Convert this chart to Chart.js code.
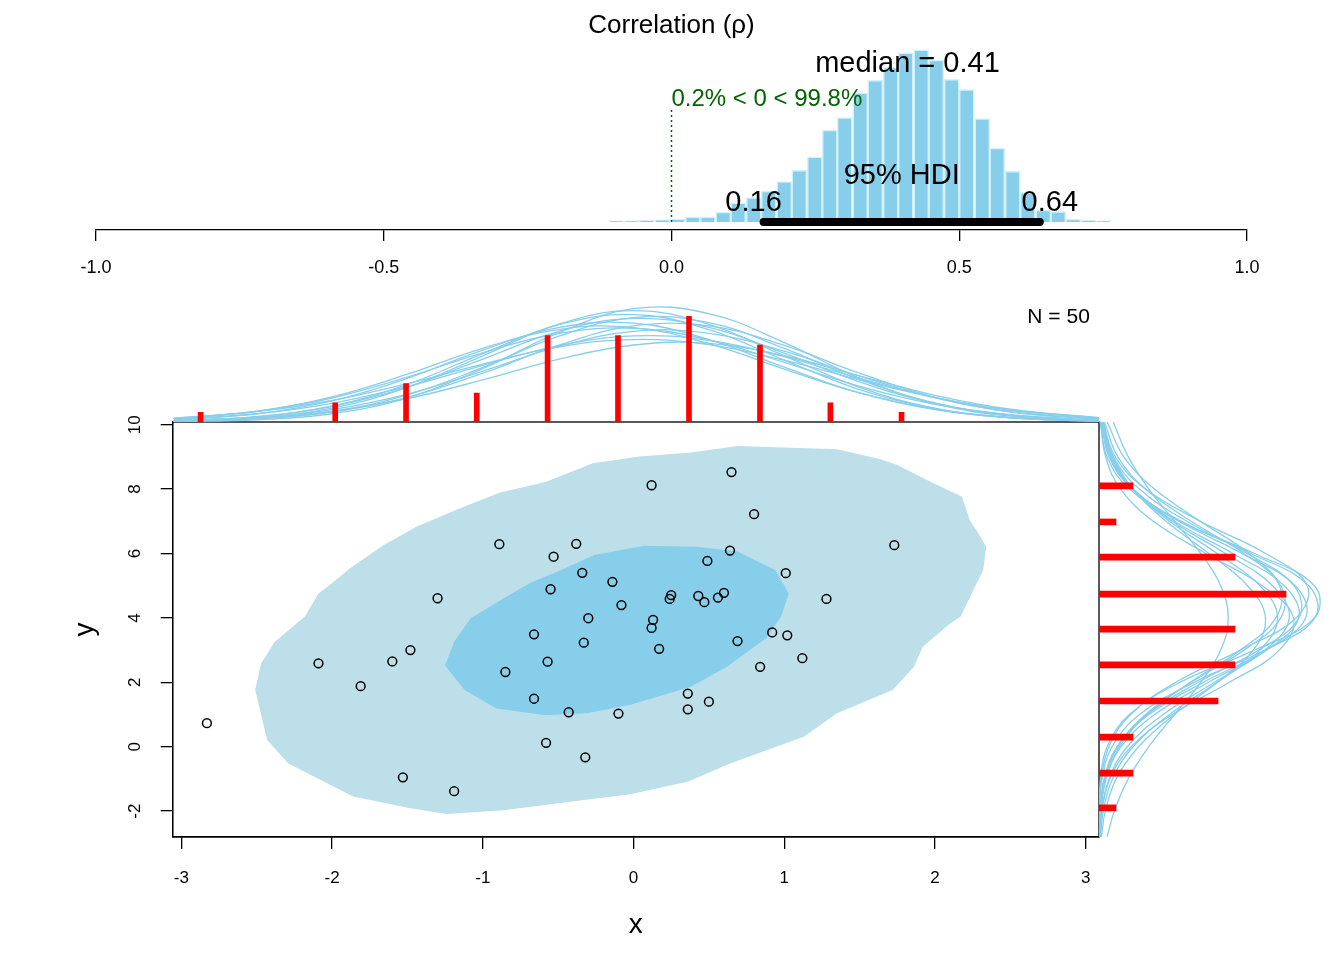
<!DOCTYPE html>
<html>
<head>
<meta charset="utf-8">
<script src="https://cdn.jsdelivr.net/npm/chart.js@4.4.1/dist/chart.umd.min.js"></script>
<style>
  html, body { margin: 0; padding: 0; background: #fff; }
  #wrap { position: relative; width: 1344px; height: 960px; }
  #wrap canvas { position: absolute; left: 0; top: 0; }
</style>
</head>
<body>
<div id="wrap">
  <canvas id="rhoChart" width="1344" height="960"></canvas>
  <canvas id="mainChart" width="1344" height="960"></canvas>
  <canvas id="topChart" width="1344" height="960"></canvas>
  <canvas id="sideChart" width="1344" height="960"></canvas>
</div>
<script>
// posterior of the correlation
const rhoBins = [-0.096, -0.069, -0.043, -0.016, 0.010, 0.037, 0.063, 0.090, 0.116, 0.143,
                 0.169, 0.196, 0.222, 0.249, 0.275, 0.301, 0.328, 0.354, 0.381, 0.407,
                 0.434, 0.460, 0.487, 0.513, 0.540, 0.566, 0.593, 0.619, 0.646, 0.672,
                 0.698, 0.725, 0.751];
const rhoDensity = [0.02, 0.02, 0.03, 0.04, 0.06, 0.10, 0.10, 0.19, 0.37, 0.47,
                    0.60, 0.78, 1.00, 1.26, 1.78, 2.02, 2.50, 2.74, 2.99, 3.27,
                    3.33, 3.13, 2.76, 2.56, 2.00, 1.43, 0.98, 0.57, 0.23, 0.20,
                    0.05, 0.03, 0.02];
const rhoHdi = [0.16, 0.64];
const rhoMedian = 0.41;
const rhoSplit = [0.2, 99.8];

// raw data
const xs = [-2.83, -2.09, -1.81, -1.60, -1.48, -1.30, -0.89, -0.53, -0.38, -0.34,
            -0.14, -0.55, -0.08, -0.30, -0.66, -0.33, -0.57, -0.85, -0.66, -0.43,
            -0.10, -0.58, -0.32, -1.53, -1.19, 0.12, 0.65, 0.80, 1.73, 0.64,
            0.49, 1.01, 0.25, 0.24, 0.43, 0.47, 0.56, 0.60, 1.28, 0.13,
            0.12, 0.69, 0.92, 1.02, 0.17, 1.12, 0.84, 0.36, 0.50, 0.36];
const ys = [0.73, 2.59, 1.88, 2.65, 3.00, 4.61, 6.29, 5.90, 6.30, 5.40,
            5.12, 4.89, 4.40, 3.99, 3.49, 3.23, 2.64, 2.32, 1.49, 1.07,
            1.03, 0.12, -0.33, -0.95, -1.38, 8.12, 8.53, 7.22, 6.26, 6.09,
            5.77, 5.39, 4.71, 4.59, 4.68, 4.49, 4.63, 4.78, 4.59, 3.94,
            3.69, 3.28, 3.55, 3.46, 3.04, 2.75, 2.48, 1.65, 1.40, 1.16];

// marginal histograms
const xHistMids = [-2.872, -1.979, -1.509, -1.040, -0.570, -0.103, 0.368, 0.839, 1.306, 1.778];
const xHistCounts = [1, 2, 4, 3, 9, 9, 11, 8, 2, 1];
const yHistMids = [8.10, 6.98, 5.89, 4.74, 3.65, 2.54, 1.42, 0.30, -0.82, -1.90];
const yHistCounts = [2, 1, 8, 11, 8, 8, 7, 2, 2, 1];

// posterior predictive curves (count scale)
const xCurveGrid = [-3.05, -2.5, -2, -1.5, -1, -0.5, 0, 0.5, 1, 1.5, 2, 2.5, 3.09];
const xCurves = [
  [0.04, 0.22, 0.86, 2.52, 5.56, 9.29, 11.80, 11.30, 8.27, 4.57, 1.91, 0.61, 0.11],
  [0.14, 0.56, 1.61, 3.63, 6.55, 9.42, 10.79, 9.85, 7.17, 4.17, 1.92, 0.71, 0.16],
  [0.36, 1.11, 2.50, 4.68, 7.21, 9.22, 9.76, 8.56, 6.20, 3.72, 1.85, 0.76, 0.21],
  [0.07, 0.33, 1.04, 2.57, 5.08, 7.98, 10.01, 10.01, 7.98, 5.08, 2.57, 1.04, 0.27],
  [0.12, 0.56, 1.67, 3.91, 7.13, 10.12, 11.19, 9.63, 6.45, 3.37, 1.37, 0.44, 0.08],
  [0.29, 0.86, 1.94, 3.70, 5.91, 7.94, 8.97, 8.51, 6.80, 4.55, 2.57, 1.22, 0.41],
  [0.35, 1.12, 2.62, 4.98, 7.68, 9.63, 9.84, 8.17, 5.51, 3.03, 1.35, 0.49, 0.11],
  [0.12, 0.43, 1.12, 2.44, 4.38, 6.52, 8.02, 8.18, 6.90, 4.81, 2.78, 1.33, 0.44],
  [0.09, 0.45, 1.45, 3.60, 6.89, 10.18, 11.60, 10.18, 6.89, 3.60, 1.45, 0.45, 0.08],
  [0.12, 0.47, 1.30, 2.91, 5.29, 7.84, 9.45, 9.24, 7.37, 4.78, 2.52, 1.08, 0.31],
  [0.23, 0.85, 2.20, 4.55, 7.49, 9.84, 10.29, 8.59, 5.71, 3.03, 1.28, 0.43, 0.09],
  [0.07, 0.33, 1.09, 2.82, 5.68, 8.91, 10.88, 10.35, 7.67, 4.42, 1.99, 0.70, 0.15],
  [0.40, 1.07, 2.24, 3.99, 6.04, 7.81, 8.59, 8.06, 6.44, 4.39, 2.55, 1.26, 0.45]
];
const yCurveGrid = [-2.8, -2, -1, 0, 1, 2, 3, 4, 5, 6, 7, 8, 9, 10.08];
const yCurves = [
  [0.01, 0.03, 0.18, 0.77, 2.39, 5.59, 9.76, 12.70, 12.34, 8.94, 4.85, 1.95, 0.59, 0.12],
  [0.02, 0.10, 0.40, 1.30, 3.28, 6.44, 9.85, 11.74, 10.89, 7.87, 4.43, 1.94, 0.66, 0.16],
  [0.03, 0.09, 0.36, 1.11, 2.74, 5.42, 8.53, 10.69, 10.69, 8.53, 5.42, 2.74, 1.11, 0.32],
  [0.09, 0.25, 0.79, 2.01, 4.15, 6.95, 9.47, 10.50, 9.47, 6.95, 4.15, 2.01, 0.79, 0.23],
  [0.02, 0.07, 0.31, 1.08, 2.94, 6.14, 9.85, 12.15, 11.54, 8.41, 4.71, 2.03, 0.68, 0.15],
  [0.14, 0.37, 1.01, 2.33, 4.43, 6.97, 9.07, 9.79, 8.74, 6.46, 3.95, 2.00, 0.84, 0.26],
  [0.04, 0.12, 0.42, 1.21, 2.83, 5.37, 8.30, 10.40, 10.62, 8.82, 5.95, 3.27, 1.46, 0.49],
  [0.48, 0.90, 1.72, 2.93, 4.45, 5.99, 7.16, 7.60, 7.16, 5.99, 4.45, 2.93, 1.72, 0.84],
  [0.00, 0.01, 0.09, 0.48, 1.79, 4.75, 9.14, 12.67, 12.67, 9.14, 4.75, 1.79, 0.48, 0.08],
  [0.05, 0.16, 0.59, 1.66, 3.77, 6.79, 9.77, 11.19, 10.21, 7.44, 4.31, 1.99, 0.74, 0.19],
  [0.02, 0.07, 0.31, 1.07, 2.83, 5.84, 9.39, 11.76, 11.47, 8.71, 5.16, 2.38, 0.85, 0.21],
  [0.05, 0.17, 0.64, 1.89, 4.31, 7.67, 10.61, 11.44, 9.60, 6.28, 3.20, 1.27, 0.39, 0.08],
  [0.01, 0.02, 0.14, 0.58, 1.86, 4.52, 8.31, 11.59, 12.25, 9.81, 5.96, 2.74, 0.96, 0.23]
];

// highest density regions of the fitted bivariate model
const hdr95 = [[-2.51, 1.76], [-2.47, 2.59], [-2.38, 3.26], [-2.18, 4.04], [-2.09, 4.76],
  [-2.03, 4.97], [-1.88, 5.54], [-1.66, 6.26], [-1.44, 6.83], [-1.18, 7.35], [-0.89, 7.89],
  [-0.58, 8.23], [-0.27, 8.80], [0.04, 9.01], [0.38, 9.14], [0.69, 9.34], [1.35, 9.24],
  [1.64, 8.93], [1.75, 8.75], [1.99, 8.18], [2.18, 7.76], [2.23, 7.04], [2.28, 6.68],
  [2.34, 6.21], [2.32, 5.49], [2.17, 4.04], [2.10, 3.83], [1.97, 3.31], [1.92, 3.11],
  [1.86, 2.48], [1.72, 1.76], [1.35, 1.04], [1.13, 0.31], [0.64, -0.52], [0.36, -1.09],
  [0.16, -1.29], [-0.02, -1.48], [-0.42, -1.71], [-0.86, -1.97], [-1.24, -2.09],
  [-1.48, -1.91], [-1.86, -1.55], [-2.29, -0.52], [-2.43, 0.21]];
const hdr50 = [[-1.25, 2.52], [-1.19, 3.26], [-1.08, 3.99], [-0.86, 4.61], [-0.69, 5.08],
  [-0.48, 5.49], [-0.26, 5.95], [0.07, 6.24], [0.42, 6.21], [0.69, 6.06], [0.94, 5.49],
  [1.03, 4.76], [0.98, 4.04], [0.88, 3.37], [0.62, 2.48], [0.38, 1.86], [-0.02, 1.30],
  [-0.31, 1.04], [-0.58, 0.98], [-0.91, 1.19], [-1.12, 1.76]];

const FONT = "'Liberation Sans', Arial, Helvetica, sans-serif";
const SKY = '#87CEEB';
Chart.defaults.font.family = FONT;
Chart.defaults.color = '#000';
Chart.defaults.animation = false;
Chart.defaults.responsive = false;
Chart.defaults.devicePixelRatio = 1;
Chart.defaults.plugins.legend.display = false;
Chart.defaults.plugins.tooltip.enabled = false;

const ring = pts => pts.concat([pts[0]]).map(p => ({x: p[0], y: p[1]}));
const axisLine = {color: '#000', width: 1.3};
const tickGrid = {drawOnChartArea: false, tickLength: 12, color: '#000', lineWidth: 1.3};

// main plot range, shared by the marginals
const xMin = -3.057, xMax = 3.088;
const yMin = -2.804, yMax = 10.084;

// ---- correlation panel ----
const rhoText = {
  id: 'rhoText',
  afterDatasetsDraw(chart) {
    const {ctx, scales: {x, y}} = chart;
    const y0 = y.getPixelForValue(0);
    ctx.save();
    ctx.fillStyle = '#000';
    ctx.textBaseline = 'middle';
    ctx.textAlign = 'center';
    ctx.font = '26px ' + FONT;
    ctx.fillText('Correlation (\u03c1)', x.getPixelForValue(0), 26);
    ctx.font = '29px ' + FONT;
    ctx.fillText('median = ' + rhoMedian.toFixed(2), x.getPixelForValue(rhoMedian), y0 - 158);
    ctx.fillText('95% HDI', x.getPixelForValue((rhoHdi[0] + rhoHdi[1]) / 2), y0 - 46);
    ctx.fillText(rhoHdi[0].toFixed(2), x.getPixelForValue(rhoHdi[0]) - 10, y0 - 19);
    ctx.fillText(rhoHdi[1].toFixed(2), x.getPixelForValue(rhoHdi[1]) + 10, y0 - 19);
    ctx.textAlign = 'left';
    ctx.fillStyle = '#006400';
    ctx.font = '24px ' + FONT;
    ctx.fillText(rhoSplit[0] + '% < 0 < ' + rhoSplit[1] + '%', x.getPixelForValue(0), y0 - 123);
    ctx.restore();
  }
};

new Chart(document.getElementById('rhoChart'), {
  type: 'bar',
  data: {
    datasets: [
      {
        type: 'line',
        data: [{x: rhoHdi[0], y: 0}, {x: rhoHdi[1], y: 0}],
        borderColor: '#000', borderWidth: 8, borderCapStyle: 'round',
        pointRadius: 0, order: 0
      },
      {
        type: 'line',
        data: [{x: 0, y: 0}, {x: 0, y: 2.17}],
        borderColor: '#006400', borderWidth: 1.5, borderDash: [2, 3],
        pointRadius: 0, order: 1
      },
      {
        type: 'bar',
        data: rhoBins.map((b, i) => ({x: b, y: rhoDensity[i]})),
        backgroundColor: SKY, borderColor: '#D4F1FB', borderWidth: 1.5,
        barPercentage: 1, categoryPercentage: 1, order: 2
      }
    ]
  },
  options: {
    layout: {padding: {left: 96, right: 97, top: 40, bottom: 660}},
    scales: {
      x: {
        type: 'linear', min: -1, max: 1, offset: false,
        afterFit: s => { s.height = 70; },
        ticks: {stepSize: 0.5, padding: 16, font: {size: 18}, maxRotation: 0,
                callback: v => v.toFixed(1)},
        grid: {drawOnChartArea: false, offset: false, tickLength: 11, color: '#000', lineWidth: 1.3},
        border: axisLine
      },
      y: {type: 'linear', display: false, min: -0.155, max: 3.52, offset: false}
    }
  },
  plugins: [rhoText]
});

// ---- scatter with HDR contours ----
const frame = {
  id: 'frame',
  afterDraw(chart) {
    const {ctx, chartArea: a} = chart;
    ctx.save();
    ctx.strokeStyle = '#000';
    ctx.lineWidth = 1.3;
    ctx.strokeRect(a.left, a.top, a.right - a.left, a.bottom - a.top);
    ctx.restore();
  }
};

new Chart(document.getElementById('mainChart'), {
  type: 'scatter',
  data: {
    datasets: [
      {
        data: xs.map((v, i) => ({x: v, y: ys[i]})),
        pointRadius: 4.4, pointBorderWidth: 1.5,
        pointBorderColor: '#000', pointBackgroundColor: 'rgba(0,0,0,0)'
      },
      {
        type: 'line', data: ring(hdr50), fill: 'shape',
        backgroundColor: SKY, borderColor: 'rgba(0,0,0,0)', pointRadius: 0, tension: 0
      },
      {
        type: 'line', data: ring(hdr95), fill: 'shape',
        backgroundColor: '#BDDFEA', borderColor: 'rgba(0,0,0,0)', pointRadius: 0, tension: 0
      }
    ]
  },
  options: {
    layout: {padding: {left: 0, right: 245, top: 422, bottom: 0}},
    scales: {
      x: {
        type: 'linear', min: xMin, max: xMax,
        afterFit: s => { s.height = 123; },
        ticks: {stepSize: 1, includeBounds: false, autoSkip: false, padding: 19,
                font: {size: 17}, maxRotation: 0},
        grid: tickGrid, border: axisLine,
        title: {display: true, text: 'x', font: {size: 28}, padding: {top: 0, bottom: 18}}
      },
      y: {
        type: 'linear', min: yMin, max: yMax,
        afterFit: s => { s.width = 172.7; },
        ticks: {stepSize: 2, includeBounds: false, autoSkip: false, padding: 16,
                minRotation: 90, maxRotation: 90, crossAlign: 'center', font: {size: 17}},
        grid: tickGrid, border: axisLine,
        title: {display: true, text: 'y', font: {size: 28}, padding: {top: 68, bottom: 0}}
      }
    }
  },
  plugins: [frame]
});

// ---- marginal of x (top) ----
const nLabel = {
  id: 'nLabel',
  afterDatasetsDraw(chart) {
    const {ctx, scales: {x, y}} = chart;
    ctx.save();
    ctx.fillStyle = '#000';
    ctx.font = '21px ' + FONT;
    ctx.textAlign = 'center';
    ctx.textBaseline = 'middle';
    ctx.fillText('N = ' + xs.length, x.getPixelForValue(2.82), y.getPixelForValue(10.94));
    ctx.restore();
  }
};

new Chart(document.getElementById('topChart'), {
  type: 'bar',
  data: {
    datasets: [
      {
        type: 'bar',
        data: xHistMids.map((m, i) => ({x: m, y: xHistCounts[i]})),
        backgroundColor: '#FF0000', barThickness: 5, order: 0
      }
    ].concat(xCurves.map(c => ({
      type: 'line',
      data: xCurveGrid.map((g, i) => ({x: g, y: c[i]})),
      borderColor: SKY, borderWidth: 1.3, pointRadius: 0, tension: 0.4, order: 1
    })))
  },
  options: {
    layout: {padding: {left: 172.7, right: 245, top: 290, bottom: 538}},
    scales: {
      x: {type: 'linear', display: false, min: xMin, max: xMax, offset: false},
      y: {type: 'linear', display: false, min: 0, max: 13.75, offset: false}
    }
  },
  plugins: [nLabel]
});

// ---- marginal of y (right) ----
new Chart(document.getElementById('sideChart'), {
  type: 'bar',
  data: {
    datasets: [
      {
        type: 'bar', indexAxis: 'y',
        data: yHistMids.map((m, i) => ({x: yHistCounts[i], y: m})),
        backgroundColor: '#FF0000', barThickness: 6, order: 0
      }
    ].concat(yCurves.map(c => ({
      type: 'line',
      data: yCurveGrid.map((g, i) => ({x: c[i], y: g})),
      borderColor: SKY, borderWidth: 1.3, pointRadius: 0, tension: 0.4, order: 1
    })))
  },
  options: {
    layout: {padding: {left: 1099, right: 0, top: 422, bottom: 123}},
    scales: {
      x: {type: 'linear', display: false, min: 0, max: 14.41, offset: false},
      y: {type: 'linear', display: false, min: yMin, max: yMax, offset: false}
    }
  }
});
</script>
</body>
</html>
